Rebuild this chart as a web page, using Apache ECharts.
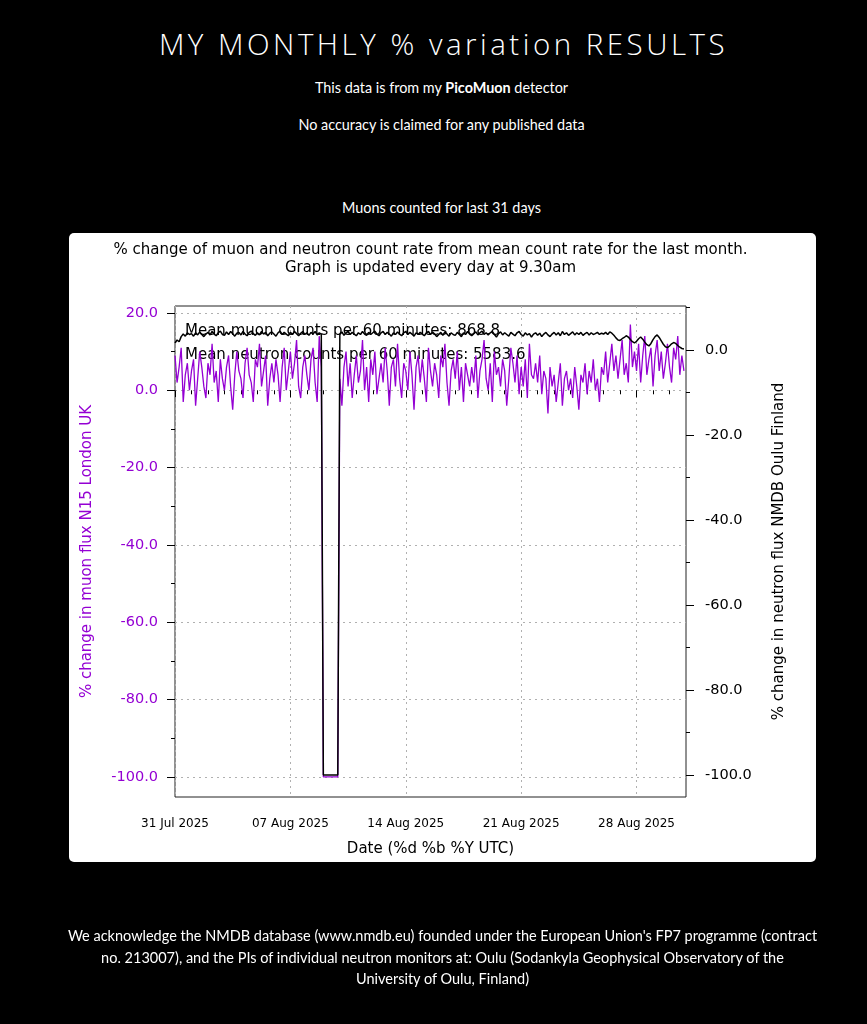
<!DOCTYPE html>
<html>
<head>
<meta charset="utf-8">
<script src="https://cdn.jsdelivr.net/npm/echarts@6/dist/echarts.min.js"></script>
<style>
  html, body { margin:0; padding:0; background:#000; }
  body { width:867px; height:1024px; position:relative; overflow:hidden; }
  .t { position:absolute; left:8px; width:867px; text-align:center; color:#fff; font-family:Lato, "Open Sans", sans-serif; }
  #h1 { top:26px; left:10px; font-size:29.5px; line-height:36px; letter-spacing:3.5px; font-family:"Open Sans", Lato, sans-serif; font-weight:300; }
  #p1 { top:79px; font-size:14.4px; line-height:18px; }
  #p2 { top:116px; font-size:14.4px; line-height:18px; }
  #p3 { top:199px; font-size:14.4px; line-height:18px; }
  #foot { top:925px; font-size:14.5px; line-height:21.5px; left:40px; width:805px; }
  #panel { position:absolute; left:69px; top:233px; width:747px; height:629px; background:#fff; border-radius:5px; }
  #chart { position:absolute; left:0; top:0; width:867px; height:1024px; }
</style>
</head>
<body>
<div id="h1" class="t">MY MONTHLY % variation RESULTS</div>
<div id="p1" class="t">This data is from my <b>PicoMuon</b> detector</div>
<div id="p2" class="t">No accuracy is claimed for any published data</div>
<div id="p3" class="t">Muons counted for last 31 days</div>
<div id="panel"></div>
<div id="chart"></div>
<div id="foot" class="t">We acknowledge the NMDB database (www.nmdb.eu) founded under the European Union's FP7 programme (contract<br>no. 213007), and the PIs of individual neutron monitors at: Oulu (Sodankyla Geophysical Observatory of the<br>University of Oulu, Finland)</div>
<script>
// ---- data ----
const stepHours = 3;               // sample spacing of the series (hours from 31 Jul 2025 00:00 UTC)
const spanHours = 744;             // 31 days shown
const xTickDays = [0, 7, 14, 21, 28];
const xTickLabels = ['31 Jul 2025', '07 Aug 2025', '14 Aug 2025', '21 Aug 2025', '28 Aug 2025'];
const leftTicks = [-100, -80, -60, -40, -20, 0, 20];
const rightTicks = [-100, -80, -60, -40, -20, 0];

// % change in muon flux (3-hourly), one row per day
const muonValues = [
  9, 2, 6, 11, -3, 4, 7, 0,
  5, 8, -4, 3, 10, 6, 1, -2,
  7, 4, 12, 2, 5, -3, 8, 3,
  0, 6, 9, 1, -5, 4, 10, 5,
  3, -2, 7, 11, 4, 2, -3, 8,
  6, 12, 1, 5, 9, -4, 3, 7,
  2, 8, 4, -3, 6, 11, 0, 5,
  10, 3, 7, 13, 1, -2, 6, 9,
  4, 0, 8, 11, 2, -3, 14, 6,
  -100, -100, -100, -100, -100, -100, -100, -100,
  3, -4, 6, 10, 1, 7, -2, 4,
  9, 2, 5, 13, 0, 6, -3, 8,
  4, 10, -1, 3, 7, 2, 11, 5,
  -4, 6, 8, 1, 12, 3, -2, 7,
  5, 0, 10, 4, -5, 6, 9, 2,
  8, 3, -3, 11, 5, 1, 7, 4,
  -2, 9, 6, 12, 2, -4, 5, 8,
  3, 10, 0, 6, -3, 7, 4, 1,
  6, 2, 9, -2, 5, 8, 13, 3,
  0, 7, -3, 10, 4, 6, 1, 8,
  5, -4, 3, 11, 7, 2, 9, -1,
  6, 1, 8, -2, 12, 4, 3, 7,
  2, 9, -1, 5, 3, -6, 6, 1,
  4, -3, 2, 7, -4, 3, 5, 0,
  3, -2, 6, 1, -5, 4, 2, 7,
  -1, 5, 2, 8, 0, 3, -3, 6,
  4, 10, 2, 7, 12, 5, 9, 3,
  8, 13, 4, 7, 2, 17, 6, 10,
  5, 12, 2, 9, 14, 4, 8, 11,
  1, 9, 13, 5, 10, 3, 7, 12,
  6, 2, 11, 8, 14, 4, 9, 5
];

// % change in neutron flux, NMDB Oulu (3-hourly), one row per day
const neutronValues = [
  1.6, 2.3, 1.9, 3.1, 3.7, 3.2, 4.0, 3.6,
  3.8, 3.2, 4.0, 3.5, 4.2, 3.6, 3.1, 3.7,
  4.1, 3.5, 4.3, 3.7, 3.3, 4.0, 4.4, 3.6,
  3.4, 4.2, 3.6, 4.3, 3.8, 3.2, 3.9, 4.1,
  3.5, 4.3, 3.7, 3.3, 4.1, 4.4, 3.8, 3.4,
  4.0, 3.5, 4.3, 3.7, 4.1, 3.3, 3.9, 4.2,
  3.7, 3.2, 4.0, 4.4, 3.6, 4.1, 3.7, 3.3,
  4.1, 3.6, 4.3, 3.8, 3.3, 3.9, 4.3, 3.6,
  4.0, 3.4, 4.1, 3.7, 4.3, 3.5, 4.0, 3.7,
  -100, -100, -100, -100, -100, -100, -100, -100,
  3.6, 4.2, 3.4, 4.0, 4.3, 3.6, 4.1, 3.7,
  3.3, 4.0, 3.6, 4.3, 3.7, 3.4, 4.1, 3.6,
  4.0, 4.4, 3.7, 3.3, 4.0, 4.3, 3.6, 4.1,
  3.7, 3.2, 4.0, 3.6, 4.2, 3.7, 3.3, 4.0,
  4.3, 3.6, 4.1, 3.7, 3.2, 4.0, 3.6, 4.1,
  3.7, 3.3, 4.0, 4.3, 3.6, 4.2, 3.7, 3.1,
  3.6, 4.1, 3.4, 4.2, 3.7, 3.2, 4.0, 3.6,
  3.4, 4.1, 3.6, 3.1, 4.0, 3.6, 4.3, 3.7,
  3.3, 3.8, 4.2, 3.5, 4.0, 4.4, 3.6, 4.0,
  3.5, 4.0, 4.3, 3.6, 3.0, 3.8, 4.2, 3.5,
  4.0, 3.6, 3.2, 4.1, 3.7, 3.3, 4.0, 4.3,
  3.6, 3.2, 4.0, 3.5, 3.8, 3.0, 3.7, 4.0,
  3.4, 3.9, 3.1, 3.7, 4.1, 3.5, 3.1, 3.7,
  4.1, 3.5, 4.0, 3.3, 4.3, 3.6, 4.0, 3.4,
  3.8, 4.2, 3.5, 4.0, 3.6, 4.1, 3.4, 3.8,
  4.1, 3.5, 4.0, 3.6, 3.8, 4.1, 3.6, 3.9,
  3.7, 4.1, 3.6, 4.2, 3.9, 3.4, 2.8, 2.3,
  2.2, 2.6, 2.9, 3.3, 3.0, 2.4, 1.9, 1.6,
  2.0, 2.6, 3.0, 2.5, 1.8, 1.2, 0.9, 1.5,
  2.4, 3.1, 3.5, 2.9, 2.1, 1.3, 0.7, 0.5,
  0.9, 1.4, 1.7, 1.5, 1.0, 0.6, 0.3, 0.2
];

const meanMuonText = 'Mean muon counts per 60 minutes: 868.8';
const meanNeutronText = 'Mean neutron counts per 60 minutes: 5583.6';

// ---- chart ----
const PURPLE = '#9400D3';
const FONT = '"DejaVu Sans", sans-serif';
const xTickHours = xTickDays.map(d => d * 24);

const chart = echarts.init(document.getElementById('chart'), null, { renderer: 'canvas' });
const option = {
  animation: false,
  backgroundColor: 'transparent',
  textStyle: { fontFamily: FONT },
  grid: { left: 175, right: 181, top: 306, bottom: 227, show: true, borderColor: '#222', borderWidth: 1, backgroundColor: 'transparent' },
  graphic: [
    { type: 'text', x: 430.5, y: 259, style: { text: '% change of muon and neutron count rate from mean count rate for the last month.\nGraph is updated every day at 9.30am', fill: '#000', font: '15px ' + FONT, align: 'center', verticalAlign: 'middle', lineHeight: 18.5 } },
    { type: 'text', x: 185, y: 331, z: 1, style: { text: meanMuonText, fill: '#000', font: '15px ' + FONT, verticalAlign: 'middle' } },
    { type: 'text', x: 185, y: 355, z: 1, style: { text: meanNeutronText, fill: '#000', font: '15px ' + FONT, verticalAlign: 'middle' } }
  ],
  xAxis: {
    type: 'value', min: 0, max: spanHours, interval: 168,
    name: 'Date (%d %b %Y UTC)', nameLocation: 'middle', nameGap: 45,
    nameTextStyle: { color: '#000', fontSize: 15, fontFamily: FONT },
    axisLine: { show: false },
    axisTick: { show: true, length: 7, inside: false, lineStyle: { color: '#000' }, customValues: xTickHours },
    minorTick: { show: true, splitNumber: 7, length: 4, lineStyle: { color: '#000' } },
    axisLabel: {
      customValues: xTickHours, color: '#000', fontSize: 12, fontFamily: FONT, margin: 21,
      formatter: v => { const k = xTickHours.indexOf(v); return k >= 0 ? xTickLabels[k] : ''; }
    },
    splitLine: { show: true, lineStyle: { color: '#b0b0b0', type: [2, 4], width: 1 } },
    minorSplitLine: { show: false }
  },
  yAxis: [
    {
      type: 'value', position: 'left', min: -105.2, max: 21.8, splitNumber: 6,
      name: '% change in muon flux N15 London UK', nameLocation: 'middle', nameRotate: 90, nameGap: 80,
      nameTextStyle: { color: PURPLE, fontSize: 15, fontFamily: FONT },
      axisLine: { show: false },
      axisTick: { show: true, length: 8, lineStyle: { color: '#000' }, customValues: leftTicks },
      minorTick: { show: true, splitNumber: 2, length: 4, lineStyle: { color: '#000' } },
      axisLabel: { customValues: leftTicks, color: PURPLE, fontSize: 14.5, fontFamily: FONT, margin: 17, formatter: v => v.toFixed(1) },
      splitLine: { show: true, lineStyle: { color: '#b0b0b0', type: [2, 4], width: 1 } }
    },
    {
      type: 'value', position: 'right', min: -105.2, max: 10.3, splitNumber: 6,
      name: '% change in neutron flux NMDB Oulu Finland', nameLocation: 'middle', nameRotate: 90, nameGap: 86,
      nameTextStyle: { color: '#000', fontSize: 15, fontFamily: FONT },
      axisLine: { show: false },
      axisTick: { show: true, length: 8, lineStyle: { color: '#000' }, customValues: rightTicks },
      minorTick: { show: true, splitNumber: 2, length: 4, lineStyle: { color: '#000' } },
      axisLabel: { customValues: rightTicks, color: '#000', fontSize: 14.5, fontFamily: FONT, margin: 19, formatter: v => v.toFixed(1) },
      splitLine: { show: false }
    }
  ],
  series: [
    {
      name: 'muon', type: 'line', yAxisIndex: 0, showSymbol: false, symbol: 'none',
      lineStyle: { color: PURPLE, width: 1.3 }, z: 2,
      data: muonValues.map((v, i) => [i * stepHours, v])
    },
    {
      name: 'neutron', type: 'line', yAxisIndex: 1, showSymbol: false, symbol: 'none',
      lineStyle: { color: '#000', width: 1.5 }, z: 3,
      data: neutronValues.map((v, i) => [i * stepHours, v])
    }
  ]
};
chart.setOption(option);
</script>
</body>
</html>
